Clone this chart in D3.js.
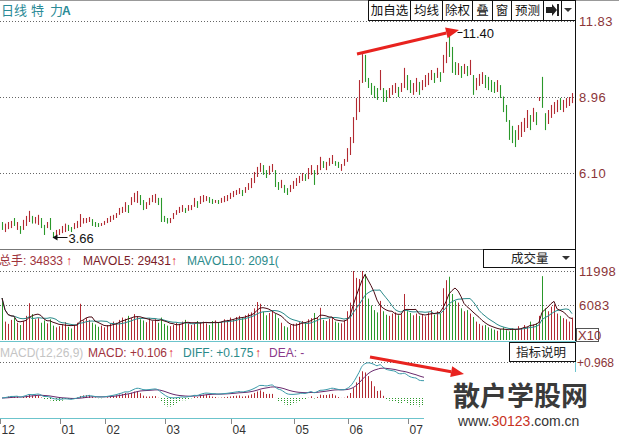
<!DOCTYPE html>
<html><head><meta charset="utf-8">
<script src="https://cdn.jsdelivr.net/npm/d3@7"></script>
<style>
body{margin:0;background:#fff;}
svg{display:block;font-family:"Liberation Sans",Arial,"Noto Sans CJK SC",sans-serif;}
</style>
</head><body>
<svg id="c" width="619" height="439"></svg>
<script>
// ---------------- DATA ----------------
const highs=[4.24,4.18,4.24,4.28,4.39,4.24,4.09,4.32,4.47,4.66,
4.47,4.43,4.51,4.39,4.13,4.24,4.39,3.86,3.94,3.97,
4.09,4.18,4.13,4.05,4.20,4.28,4.54,4.39,4.39,4.43,
4.35,4.24,4.20,4.20,4.28,4.39,4.47,4.51,4.58,4.77,
4.81,4.99,4.88,5.18,5.34,5.41,5.26,5.07,4.99,5.15,
5.26,5.30,5.15,5.15,4.47,4.39,4.39,4.58,4.69,4.81,
4.88,4.77,4.88,4.88,5.15,5.03,5.22,5.26,5.22,5.18,
5.11,5.07,5.07,5.15,5.22,5.26,5.34,5.41,5.45,5.52,
5.45,5.56,5.71,5.90,6.13,6.32,6.47,6.39,6.20,6.36,
6.43,6.20,5.75,5.83,5.64,5.52,5.64,5.79,5.90,5.98,
6.09,6.05,6.28,6.39,6.20,6.39,6.70,6.54,6.51,6.66,
6.77,6.54,6.51,6.43,6.62,7.03,7.45,8.20,8.92,9.60,
10.58,10.55,9.68,9.49,9.38,9.30,9.98,9.30,9.22,9.30,
9.41,9.49,9.34,9.49,10.06,9.79,9.60,9.49,9.68,9.53,
9.60,9.79,9.87,9.98,9.87,10.06,9.90,10.55,11.04,11.40,
10.85,10.28,10.24,10.13,10.21,10.13,10.36,9.79,9.68,9.83,
9.90,9.79,9.72,9.60,9.53,9.60,9.41,8.98,8.66,8.09,
7.87,7.71,7.90,8.02,8.17,8.47,8.28,8.55,8.39,8.96,
9.72,8.35,8.47,8.66,8.77,8.85,8.92,8.85,8.92,8.96,
9.11];
const lows=[3.94,3.86,3.97,4.01,4.09,3.94,3.79,3.94,4.09,4.24,
4.18,4.18,4.13,4.01,3.75,4.01,3.94,3.66,3.71,3.75,
3.82,3.86,3.90,3.86,3.97,4.01,4.05,4.18,4.20,4.24,
4.09,4.05,4.05,4.09,4.13,4.20,4.24,4.32,4.39,4.51,
4.58,4.62,4.58,4.88,4.99,4.96,4.88,4.69,4.73,4.88,
4.99,4.96,4.88,4.24,4.24,4.18,4.20,4.35,4.51,4.58,
4.62,4.58,4.66,4.69,4.81,4.77,4.92,4.99,5.03,4.96,
4.92,4.96,4.92,4.96,4.99,5.03,5.11,5.18,5.26,5.30,
5.22,5.34,5.45,5.52,5.71,5.94,6.13,6.02,5.90,6.02,
6.13,5.56,5.45,5.52,5.34,5.26,5.37,5.49,5.60,5.71,
5.79,5.79,5.86,6.02,5.64,6.02,6.20,6.28,6.20,6.36,
6.43,6.36,6.28,6.17,6.36,6.51,6.77,7.22,8.09,8.39,
9.49,9.53,9.30,9.04,8.92,8.85,9.22,8.77,8.77,8.92,
9.04,9.11,8.96,9.15,9.30,9.22,9.11,9.04,9.15,9.04,
9.22,9.34,9.41,9.60,9.49,9.68,9.53,9.87,10.24,10.47,
9.87,9.79,9.79,9.68,9.83,9.75,9.79,9.04,9.22,9.38,
9.45,9.30,9.22,9.15,9.11,9.15,8.92,8.39,8.02,7.34,
7.22,7.07,7.34,7.45,7.64,7.79,7.71,8.02,7.90,8.81,
8.55,7.71,7.94,8.17,8.32,8.39,8.47,8.39,8.55,8.62,
8.73];
const closes=[3.98,4.12,4.20,4.24,4.12,4.20,3.84,4.28,4.42,4.58,
4.22,4.38,4.46,4.05,3.80,4.20,3.98,3.72,3.90,3.93,
4.05,4.14,3.95,3.90,4.16,4.24,4.40,4.35,4.36,4.40,
4.13,4.08,4.08,4.18,4.25,4.35,4.43,4.48,4.55,4.72,
4.76,4.94,4.63,5.12,5.28,5.30,4.93,4.74,4.95,5.11,
5.22,5.25,4.92,4.30,4.27,4.21,4.36,4.55,4.66,4.77,
4.84,4.61,4.85,4.85,5.10,4.80,5.18,5.22,5.20,5.00,
4.95,5.05,4.95,5.12,5.19,5.23,5.31,5.38,5.42,5.48,
5.26,5.52,5.67,5.85,6.08,6.27,6.42,6.06,5.94,6.31,
6.38,5.62,5.49,5.78,5.38,5.30,5.60,5.75,5.86,5.94,
6.05,5.83,6.23,6.34,5.70,6.35,6.64,6.32,6.46,6.62,
6.72,6.40,6.32,6.40,6.58,6.98,7.40,8.14,8.86,9.50,
10.20,9.60,9.35,9.10,8.98,8.90,9.80,8.82,8.83,9.25,
9.36,9.44,9.00,9.45,9.90,9.28,9.16,9.44,9.62,9.09,
9.55,9.74,9.82,9.93,9.54,10.00,9.58,10.48,10.95,10.55,
9.95,9.85,10.18,9.74,10.15,9.80,10.28,9.10,9.62,9.77,
9.84,9.36,9.28,9.20,9.16,9.55,8.98,8.45,8.08,7.40,
7.28,7.12,7.84,7.96,8.10,8.40,7.78,8.48,7.96,8.92,
8.62,7.78,8.42,8.60,8.72,8.80,8.52,8.80,8.88,8.92,
9.05];
// r = rising day (red), g = falling day (green)
const dirs="grrrgrgrrr"+"grrggrggrr"+"rrggrrrrrr"+"gggrrrrrrr"+"rrgrrrggrr"+
"rrggggrrrr"+"rgrrrgrrrg"+"grgrrrrrrr"+"grrrrrrggr"+"rggrggrrrr"+
"rgrrgrrgrr"+"rggrrrrrrr"+"rgggggrggr"+"rrgrrggrrg"+"rrrrgrgrrg"+
"ggrgrgrgrr"+"rggggrgggg"+"ggrrrrgrgr"+"ggrrrrgrrrr";
const volumes=[7300,3200,2800,3500,3900,3000,2600,3300,4200,6400,4500,3600,3800,3000,3400,2900,3600,
2500,2200,2400,2700,3100,2300,2000,2600,3000,6300,3400,3800,3500,3000,
2700,2300,2500,2200,2600,2900,3200,3000,3500,3900,3700,4200,3800,4500,4100,
3600,3400,3100,3800,3300,3600,3000,3900,2800,2500,
2400,2600,3000,2800,3200,3500,2900,2600,2800,3300,3100,
3200,2900,2600,3300,3400,3000,3200,3600,3500,3900,3600,4000,4200,3800,4300,4600,
4800,5500,6600,6300,4900,4300,4700,5000,4500,3800,
3000,2400,2200,2600,2800,2900,3100,3300,3000,3600,3800,4700,3900,
5600,3500,3300,3700,3900,3200,3000,2900,3400,
5000,6500,12000,10800,10600,12000,11500,
7200,6000,5200,4800,6800,5000,4400,4200,4600,4800,4300,4500,8000,5000,
4700,4300,4600,4200,4500,4100,4800,5200,4400,5000,4600,
9000,10400,11000,8000,6800,6500,
5500,5000,5200,4600,
4000,3200,2800,2500,2600,2200,2000,1800,1600,1900,
2200,1700,1500,2000,1800,2400,2100,2600,2300,3200,2700,2900,
4200,11100,5500,5000,5800,6200,4600,4200,3800,3600,3200,3900];
const monthLabels=["12","01","02","03","04","05","06","07"];
const monthStarts=[0,20,35,55,77,98,116,136];
const priceTicks=[11.83,8.96,6.10];
const volTicks=[11998,6083];
const macdTicks=[0.968];
const toolbar=["加自选","均线","除权","叠","窗","预测"];
const toolbarEdges=[368,410,442,472,492,511,543];

// ---------------- SCALES ----------------
const svg=d3.select("#c");
const n=highs.length;
const RED="#b22a32", GREEN="#2a982a", AXC="#8b3538", TEAL="#2a8a92";
const x=d3.scaleLinear().domain([0,n-1]).range([2,572]);
const px=i=>Math.round(x(i))+0.5;
const yP=d3.scaleLinear().domain([3.22,11.83]).range([249,21]);
const yV=d3.scaleLinear().domain([0,11998]).range([340,271]);
const yM=d3.scaleLinear().domain([0,0.968]).range([398,362]);
const col=i=>dirs[i]==="r"?RED:GREEN;

// frame lines
svg.append("line").attr("x1",0).attr("x2",619).attr("y1",0.5).attr("y2",0.5).attr("stroke","#999");
svg.append("line").attr("x1",0).attr("x2",575).attr("y1",249.5).attr("y2",249.5).attr("stroke","#777");
svg.append("line").attr("x1",575.5).attr("x2",575.5).attr("y1",0).attr("y2",341).attr("stroke","#111");

// grid lines
const grid=(ys)=>ys.forEach(y=>svg.append("line").attr("x1",0).attr("x2",575)
  .attr("y1",Math.round(y)+0.5).attr("y2",Math.round(y)+0.5)
  .attr("stroke","#666").attr("stroke-dasharray","1,2"));
grid(priceTicks.map(yP)); grid(volTicks.map(yV)); grid(macdTicks.map(yM));

// ---------------- PRICE ----------------
svg.append("g").selectAll("line").data(d3.range(n)).join("line")
  .attr("x1",px).attr("x2",px)
  .attr("y1",i=>yP(highs[i])).attr("y2",i=>yP(lows[i]))
  .attr("stroke",col).attr("stroke-width",1.1);

priceTicks.forEach(v=>svg.append("text").attr("x",579).attr("y",yP(v)+5)
  .attr("fill",AXC).attr("font-size",13).attr("letter-spacing",0.5).text(v.toFixed(2)));

// header
const hdr=svg.append("g").attr("fill","#2a8a96").attr("font-size",13).attr("font-family","'Noto Sans CJK SC',sans-serif");
hdr.append("text").attr("x",1).attr("y",15).text("日线");
hdr.append("text").attr("x",31).attr("y",15).text("特");
hdr.append("text").attr("x",50).attr("y",15).text("力");
hdr.append("text").attr("x",62).attr("y",15).attr("font-weight","bold").attr("font-size",12).attr("font-family","Liberation Sans").text("A");

// toolbar
const tb=svg.append("g");
tb.append("rect").attr("x",368.5).attr("y",0.5).attr("width",207).attr("height",20).attr("fill","#fff").attr("stroke","#111");
const edges=toolbarEdges.concat([561]);
edges.forEach(e=>tb.append("line").attr("x1",e+0.5).attr("x2",e+0.5).attr("y1",0).attr("y2",21).attr("stroke","#111"));
toolbar.forEach((t,k)=>tb.append("text").attr("x",(toolbarEdges[k]+toolbarEdges[k+1])/2+0.5).attr("y",15)
  .attr("text-anchor","middle").attr("font-size",12.5).attr("fill","#111")
  .attr("font-family","'Noto Sans CJK SC',sans-serif").text(t));
tb.append("path").attr("d","M546,7 h6 v-3 l5,6 l-5,6 v-3 h-6 z").attr("fill","#222");
tb.append("rect").attr("x",557).attr("y",4).attr("width",2).attr("height",12).attr("fill","#222");
tb.append("path").attr("d","M564,8 h8 l-4,4 z").attr("fill","#333");

// price annotations
const iMax=d3.maxIndex(highs), iMin=d3.minIndex(lows);
const hy=Math.round(yP(highs[iMax]))+0.5;
svg.append("line").attr("x1",px(iMax)+8).attr("x2",px(iMax)+13).attr("y1",hy).attr("y2",hy).attr("stroke","#111");
svg.append("text").attr("x",px(iMax)+13).attr("y",hy+5).attr("font-size",13).attr("fill","#111").text(highs[iMax].toFixed(2));
const ly=Math.round(yP(lows[iMin]))+0.5;
svg.append("line").attr("x1",px(iMin)).attr("x2",px(iMin)+14).attr("y1",ly).attr("y2",ly).attr("stroke","#111");
svg.append("path").attr("d",`M${px(iMin)-1},${ly} l5,-3 v6 z`).attr("fill","#111");
svg.append("text").attr("x",px(iMin)+15).attr("y",ly+5).attr("font-size",13).attr("fill","#111").text(lows[iMin].toFixed(2));

// ---------------- VOLUME ----------------
svg.append("g").selectAll("line").data(d3.range(n)).join("line")
  .attr("x1",px).attr("x2",px).attr("y1",i=>yV(volumes[i])).attr("y2",340)
  .attr("stroke",col).attr("stroke-width",1);
const ma=(arr,k)=>arr.map((v,i)=>d3.mean(arr.slice(Math.max(0,i-k+1),i+1)));
const mv5=ma(volumes,5), mv10=ma(volumes,10);
const vline=d3.line().x((d,i)=>x(i)).y(d=>yV(d));
svg.append("path").attr("d",vline(mv10)).attr("fill","none").attr("stroke","#2a8a8a").attr("stroke-width",1);
svg.append("path").attr("d",vline(mv5)).attr("fill","none").attr("stroke","#4a0a14").attr("stroke-width",1);
svg.append("line").attr("x1",0).attr("x2",576).attr("y1",341.5).attr("y2",341.5).attr("stroke","#6cc4cc");

volTicks.forEach(v=>svg.append("text").attr("x",579).attr("y",yV(v)+5)
  .attr("fill",AXC).attr("font-size",13).attr("letter-spacing",0.4).text(v));
svg.append("rect").attr("x",576.5).attr("y",328.5).attr("width",22).attr("height",13).attr("fill","#fff").attr("stroke","#555");
svg.append("text").attr("x",578).attr("y",340).attr("fill",AXC).attr("font-size",13).text("X10");

const vh=svg.append("g").attr("font-size",12);
vh.append("text").attr("x",-1).attr("y",265).attr("fill","#a0323c").text("总手: 34833");
vh.append("text").attr("x",66).attr("y",265).attr("fill","#e02020").attr("font-weight","bold").text("↑");
vh.append("text").attr("x",83).attr("y",265).attr("fill","#7a1a26").text("MAVOL5: 29431");
vh.append("text").attr("x",171).attr("y",265).attr("fill","#e02020").attr("font-weight","bold").text("↑");
vh.append("text").attr("x",187).attr("y",265).attr("fill","#2a8a8a").text("MAVOL10: 2091(");
svg.append("rect").attr("x",483.5).attr("y",249.5).attr("width",92).attr("height",18).attr("fill","#fff").attr("stroke","#111");
svg.append("text").attr("x",511).attr("y",263).attr("font-size",12.5).attr("fill","#222")
  .attr("font-family","'Noto Sans CJK SC',sans-serif").text("成交量");
svg.append("path").attr("d","M562,256 h8 l-4,4 z").attr("fill","#333");

// ---------------- MACD ----------------
let e12=closes[0], e26=closes[0], dea=0;
const diffs=[], deas=[], hist=[];
closes.forEach(c=>{e12=(2*c+11*e12)/13; e26=(2*c+25*e26)/27; const d=e12-e26; dea=(2*d+8*dea)/10;
  diffs.push(d); deas.push(dea); hist.push(2*(d-dea));});
svg.append("g").selectAll("line").data(d3.range(n)).join("line")
  .attr("x1",px).attr("x2",px).attr("y1",yM(0)).attr("y2",i=>yM(hist[i]))
  .attr("stroke",i=>hist[i]>=0?RED:GREEN).attr("stroke-width",1)
  .attr("stroke-dasharray",i=>hist[i]>=0?null:"1,1");
const mline=d3.line().x((d,i)=>x(i)).y(d=>yM(d)).curve(d3.curveMonotoneX);
svg.append("path").attr("d",mline(deas)).attr("fill","none").attr("stroke","#6a2a6e").attr("stroke-width",1);
svg.append("path").attr("d",mline(diffs)).attr("fill","none").attr("stroke","#3a9aaa").attr("stroke-width",1);

macdTicks.forEach(v=>svg.append("text").attr("x",577).attr("y",yM(v)+5)
  .attr("fill",AXC).attr("font-size",12).text("+"+v.toFixed(3)));
const mh=svg.append("g").attr("font-size",12);
mh.append("text").attr("x",0).attr("y",357).attr("fill","#c4c4c4").text("MACD(12,26,9)");
mh.append("text").attr("x",88).attr("y",357).attr("fill","#a0323c").text("MACD: +0.106");
mh.append("text").attr("x",168).attr("y",357).attr("fill","#e02020").attr("font-weight","bold").text("↑");
mh.append("text").attr("x",183).attr("y",357).attr("fill","#2a8a8a").text("DIFF: +0.175");
mh.append("text").attr("x",255).attr("y",357).attr("fill","#e02020").attr("font-weight","bold").text("↑");
mh.append("text").attr("x",269).attr("y",357).attr("fill","#8a3a8a").text("DEA: -");
svg.append("rect").attr("x",509.5).attr("y",342.5).attr("width",66).attr("height",19).attr("fill","#fff").attr("stroke","#111");
svg.append("text").attr("x",516).attr("y",357).attr("font-size",12.5).attr("fill","#222")
  .attr("font-family","'Noto Sans CJK SC',sans-serif").text("指标说明");
svg.append("line").attr("x1",575.5).attr("x2",575.5).attr("y1",362).attr("y2",374).attr("stroke","#6cc4cc");

// x axis
svg.append("line").attr("x1",0).attr("x2",576).attr("y1",418.5).attr("y2",418.5).attr("stroke","#6cc4cc");
monthStarts.forEach((s,k)=>{
  const tx=Math.round(x(s))-1.5;
  svg.append("line").attr("x1",tx).attr("x2",tx).attr("y1",419).attr("y2",424).attr("stroke","#888");
  svg.append("text").attr("x",tx+1).attr("y",434).attr("font-size",12).attr("fill","#333").text(monthLabels[k]);
});

// ---------------- ANNOTATION ARROWS ----------------
function arrow(x1,y1,x2,y2){
  const a=Math.atan2(y2-y1,x2-x1), L=13, Wd=5.5;
  const bx=x2-L*Math.cos(a), by=y2-L*Math.sin(a);
  svg.append("line").attr("x1",x1).attr("y1",y1).attr("x2",bx).attr("y2",by).attr("stroke","#e8231f").attr("stroke-width",3);
  svg.append("path").attr("d",`M${x2},${y2} L${bx+Wd*Math.sin(a)},${by-Wd*Math.cos(a)} L${bx-Wd*Math.sin(a)},${by+Wd*Math.cos(a)} Z`).attr("fill","#e8231f");
}

// watermark cover
svg.append("rect").attr("x",424).attr("y",372).attr("width",195).attr("height",67).attr("fill","#fff");
svg.append("text").attr("x",453).attr("y",406).attr("font-size",27).attr("font-weight","bold").attr("fill","#3a3a3a")
  .attr("font-family","'Noto Sans CJK SC',sans-serif").text("散户学股网");
const wt=svg.append("text").attr("x",458).attr("y",426).attr("font-size",14).attr("fill","#333");
wt.append("tspan").text("www.");
wt.append("tspan").attr("fill","#c8321e").text("30123");
wt.append("tspan").text(".com.cn");

arrow(357,54,459,30);
arrow(370,357,464,374);
</script>
</body></html>
